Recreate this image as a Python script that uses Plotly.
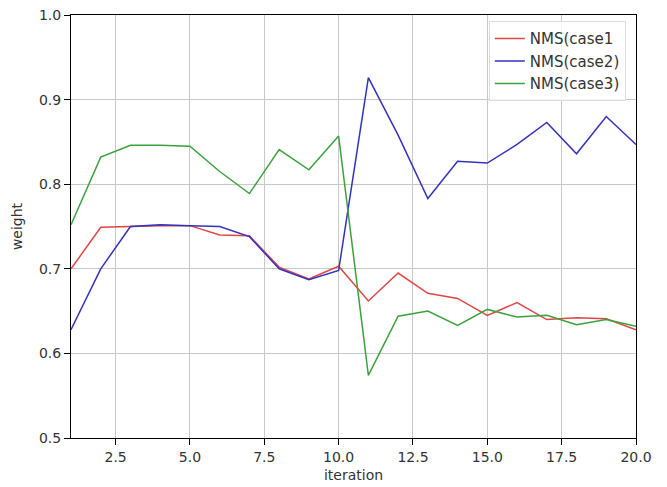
import plotly.graph_objects as go

iterations = list(range(1, 21))
case1 = [0.700, 0.749, 0.750, 0.751, 0.751, 0.740, 0.739, 0.702, 0.688, 0.703,
         0.662, 0.695, 0.671, 0.665, 0.645, 0.660, 0.640, 0.642, 0.641, 0.628]
case2 = [0.628, 0.700, 0.750, 0.752, 0.751, 0.750, 0.738, 0.700, 0.687, 0.698,
         0.926, 0.858, 0.783, 0.827, 0.825, 0.847, 0.873, 0.836, 0.880, 0.847]
case3 = [0.752, 0.832, 0.846, 0.846, 0.845, 0.815, 0.789, 0.841, 0.817, 0.857,
         0.574, 0.644, 0.650, 0.633, 0.652, 0.643, 0.645, 0.634, 0.640, 0.632]
names = ["NMS(case1", "NMS(case2)", "NMS(case3)"]
colors = ["rgb(222,70,70)", "rgb(50,50,190)", "rgb(60,160,60)"]

fig = go.Figure()
for vals, name, col in zip([case1, case2, case3], names, colors):
    fig.add_trace(go.Scatter(x=iterations, y=vals, mode="lines", name=name,
                             line=dict(color=col, width=1.5)))

axis_common = dict(showline=True, linecolor="black", linewidth=1, mirror=True,
                   ticks="outside", ticklen=6, tickcolor="black",
                   showgrid=True, gridcolor="rgb(200,200,200)", gridwidth=1,
                   zeroline=False, automargin=False, ticklabeloverflow="allow",
                   tickfont=dict(size=14, color="#333"))

fig.update_layout(
    width=659, height=479,
    margin=dict(l=63, r=31, t=7, b=49),
    paper_bgcolor="white", plot_bgcolor="white",
    font=dict(family="DejaVu Sans", size=14, color="#333"),
    xaxis=dict(range=[1, 20], tickvals=[2.5, 5, 7.5, 10, 12.5, 15, 17.5, 20],
               tickformat=".1f",
               title=dict(text="iteration", standoff=6, font=dict(size=14)),
               **axis_common),
    yaxis=dict(range=[0.5, 1.0], dtick=0.1, tickformat=".1f",
               title=dict(text="weight", standoff=13, font=dict(size=14)),
               **axis_common),
    legend=dict(x=0.982, y=0.985, xanchor="right", yanchor="top",
                bgcolor="rgba(255,255,255,0.8)", bordercolor="rgb(220,220,220)",
                borderwidth=1, font=dict(size=15), tracegroupgap=0),
)

fig.write_html("out.html")
